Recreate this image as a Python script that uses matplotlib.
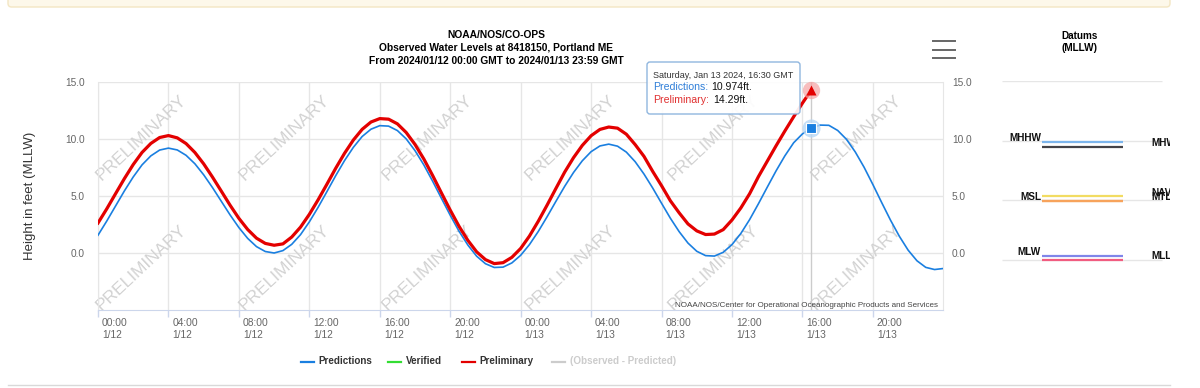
import numpy as np
import matplotlib
matplotlib.use('Agg')
import matplotlib.pyplot as plt
import matplotlib.transforms as mtransforms
from matplotlib.lines import Line2D
from matplotlib.patches import FancyBboxPatch

plt.rcParams['font.family'] = ['Liberation Sans', 'DejaVu Sans']

# Datos (cada 30 min desde 2024/01/12 00:00 GMT)
paso_h = 0.5
predicciones = [
    1.56, 2.81, 4.13, 5.45, 6.67, 7.73, 8.52, 9.03, 9.20, 9.04,
    8.57, 7.83, 6.86, 5.74, 4.54, 3.34, 2.23, 1.28, 0.56, 0.13,
    0.00, 0.21, 0.76, 1.61, 2.73, 4.01, 5.39, 6.79, 8.11, 9.27,
    10.22, 10.86, 11.17, 11.13, 10.74, 10.01, 8.98, 7.73, 6.30, 4.80,
    3.31, 1.91, 0.70, -0.28, -0.94, -1.27, -1.24, -0.87, -0.20, 0.74,
    1.89, 3.18, 4.53, 5.85, 7.06, 8.09, 8.89, 9.39, 9.55, 9.37,
    8.85, 8.01, 6.93, 5.69, 4.36, 3.05, 1.87, 0.87, 0.15, -0.23,
    -0.27, 0.06, 0.74, 1.71, 2.93, 4.32, 5.77, 7.20, 8.52, 9.67,
    10.45, 10.97, 11.22, 11.20, 10.75, 9.97, 8.86, 7.52, 6.00, 4.42,
    2.88, 1.47, 0.25, -0.68, -1.26, -1.45, -1.36,
]
preliminar = [
    2.63, 3.88, 5.21, 6.53, 7.76, 8.82, 9.61, 10.13, 10.30, 10.10,
    9.60, 8.82, 7.82, 6.66, 5.43, 4.19, 3.04, 2.06, 1.30, 0.84,
    0.68, 0.80, 1.40, 2.27, 3.39, 4.67, 6.04, 7.44, 8.75, 9.91,
    10.85, 11.49, 11.79, 11.74, 11.33, 10.57, 9.52, 8.25, 6.80, 5.27,
    3.76, 2.34, 1.11, 0.10, -0.58, -0.93, -0.85, -0.38, 0.40, 1.49,
    2.79, 4.20, 5.66, 7.10, 8.36, 9.44, 10.29, 10.84, 11.05, 10.95,
    10.42, 9.51, 8.48, 7.15, 5.90, 4.58, 3.52, 2.55, 1.94, 1.62,
    1.66, 2.05, 2.90, 3.95, 5.20, 6.70, 8.05, 9.40, 10.70, 11.95,
    13.15, 14.29,
]

horas_ticks = [0, 4, 8, 12, 16, 20, 24, 28, 32, 36, 40, 44]
etiquetas_x = ['00:00\n1/12', '04:00\n1/12', '08:00\n1/12', '12:00\n1/12',
               '16:00\n1/12', '20:00\n1/12', '00:00\n1/13', '04:00\n1/13',
               '08:00\n1/13', '12:00\n1/13', '16:00\n1/13', '20:00\n1/13']
ticks_y = [0, 5, 10, 15]
etiquetas_y = ['0.0', '5.0', '10.0', '15.0']

# Datums (MLLW)
datum_nombres = ['MHHW', 'MHW', 'MTL', 'NAVD88', 'MSL', 'MLW', 'MLLW']
datum_valores = [9.90, 9.48, 4.95, 5.33, 4.98, 0.36, 0.0]
datum_colores = ['#7cb5ec', '#434348', '#f0a050', '#f2dc62', '#f7a35c', '#8085e9', '#f15c80']
datum_lado = ['izq', 'der', 'der', 'der', 'izq', 'izq', 'der']

W, H = 1200, 388
def fx(px):
    return px / W
def fy(py):
    return 1 - py / H

fig = plt.figure(figsize=(12, 3.88), dpi=100)

# Banda superior
fig.add_artist(FancyBboxPatch((fx(8), fy(7)), fx(1162), 12 / H, transform=fig.transFigure,
                              boxstyle='round,pad=0,rounding_size=0.003', mutation_aspect=W / H,
                              fc='#fdf8ea', ec='#f3e6c3', lw=1))
fig.add_artist(Line2D([fx(8), fx(1170)], [fy(385), fy(385)], color='#d9d9d9', lw=1))

# Grafico principal
ax = fig.add_axes([fx(98), fy(310), (943 - 98) / W, (310 - 82) / H])
t_pred = np.arange(len(predicciones)) * paso_h
t_prel = np.arange(len(preliminar)) * paso_h

ax.set_xlim(0, 47.98)
ax.set_ylim(-5, 15)
ax.grid(True, color='#e6e6e6', lw=1, zorder=0)
ax.set_axisbelow(True)
ax.spines['top'].set_visible(False)
ax.spines['left'].set_color('#e6e6e6')
ax.spines['right'].set_color('#e6e6e6')
ax.spines['bottom'].set_color('#ccd6eb')

ax.set_xticks(horas_ticks)
ax.set_xticklabels(etiquetas_x, ha='left', fontsize=7.4, color='#666666', linespacing=1.25)
ax.tick_params(axis='x', length=5, width=1, color='#ccd6eb', pad=0.5)
desplazamiento = mtransforms.ScaledTranslation(4 / 100, 0, fig.dpi_scale_trans)
for lbl in ax.get_xticklabels():
    lbl.set_transform(lbl.get_transform() + desplazamiento)

ax.set_yticks(ticks_y)
ax.set_yticklabels(etiquetas_y)
ax.tick_params(axis='y', length=0, pad=9.4, labelsize=7.3, labelcolor='#666666')

ax2 = ax.twinx()
ax2.set_ylim(-5, 15)
ax2.set_yticks(ticks_y)
ax2.set_yticklabels(etiquetas_y)
ax2.tick_params(axis='y', length=0, pad=6.5, labelsize=7.3, labelcolor='#666666')
for s in ax2.spines.values():
    s.set_visible(False)

# Marcas de agua
for i in range(6):
    for cy in (138, 268):
        ax.text(fx(141 + 143 * i), fy(cy), 'PRELIMINARY', transform=fig.transFigure,
                rotation=43, rotation_mode='anchor', ha='center', va='center',
                fontsize=12.5, color='#d2d2d2', zorder=1)

# Linea de cursor y series
ax.axvline(t_prel[-1], color='#cccccc', lw=1, zorder=2)
ax.plot(t_pred, predicciones, color='#1a7fe0', lw=1.2, zorder=3)
ax.plot(t_prel, preliminar, color='#e30000', lw=2.3, zorder=4)

ax.plot(t_prel[-1], preliminar[-1], 'o', ms=12.5, color='#f6a3a3', alpha=0.7, mec='none', zorder=5, clip_on=False)
ax.plot(t_prel[-1], preliminar[-1], '^', ms=6.5, color='#e30000', mec='none', zorder=6, clip_on=False)
ax.plot(t_prel[-1], predicciones[len(preliminar) - 1], 'o', ms=13, color='#b7d7f5', alpha=0.8, mec='none', zorder=5)
ax.plot(t_prel[-1], predicciones[len(preliminar) - 1], 's', ms=6.5, color='#1a7fe0', mec='white', mew=0.8, zorder=6)

# Creditos
fig.text(fx(938), fy(305.5), 'NOAA/NOS/Center for Operational Oceanographic Products and Services',
         ha='right', va='center', fontsize=5.8, color='#444444')

# Titulos
for texto, py in [('NOAA/NOS/CO-OPS', 35),
                  ('Observed Water Levels at 8418150, Portland ME', 48),
                  ('From 2024/01/12 00:00 GMT to 2024/01/13 23:59 GMT', 61)]:
    fig.text(fx(496), fy(py), texto, ha='center', va='center', fontsize=7.4, fontweight='bold', color='#000000')

fig.text(fx(30), fy(196), 'Height in feet (MLLW)', rotation=90, ha='center', va='center',
         fontsize=9.5, color='#333333')

# Icono de menu
for py in (41, 49.5, 58):
    fig.add_artist(Line2D([fx(933), fx(955)], [fy(py), fy(py)], color='#666666', lw=1.4))

# Tooltip
fig.add_artist(FancyBboxPatch((fx(647), fy(114)), fx(153), 52 / H, transform=fig.transFigure,
                              boxstyle='round,pad=0,rounding_size=0.0025', mutation_aspect=W / H,
                              fc='white', ec='#86b0dc', lw=1, alpha=0.92, zorder=10))
fig.text(fx(653), fy(75), 'Saturday, Jan 13 2024, 16:30 GMT', va='center', fontsize=6.5,
         color='#333333', zorder=11)
fig.text(fx(653), fy(87), 'Predictions:', va='center', fontsize=7.6, color='#2f7ed8', zorder=11)
fig.text(fx(711), fy(87), '10.974ft.', va='center', fontsize=7.6, color='#111111', zorder=11)
fig.text(fx(653), fy(100), 'Preliminary:', va='center', fontsize=7.6, color='#e03030', zorder=11)
fig.text(fx(713), fy(100), '14.29ft.', va='center', fontsize=7.6, color='#111111', zorder=11)

# Leyenda
leyenda = [('Predictions', '#1a7fe0', '#333333', 301),
           ('Verified', '#33dd33', '#333333', 388),
           ('Preliminary', '#e30000', '#333333', 462),
           ('(Observed - Predicted)', '#cccccc', '#cccccc', 552)]
for nombre, col, col_txt, px in leyenda:
    fig.add_artist(Line2D([fx(px), fx(px + 13)], [fy(361.5), fy(361.5)], color=col, lw=1.6))
    fig.text(fx(px + 17.5), fy(361.5), nombre, va='center', fontsize=7.1, fontweight='bold', color=col_txt)

# Panel de datums
fig.text(fx(1080), fy(36), 'Datums', ha='center', va='center', fontsize=7.2, fontweight='bold', color='#000000')
fig.text(fx(1080), fy(48), '(MLLW)', ha='center', va='center', fontsize=7.2, fontweight='bold', color='#000000')
axd = fig.add_axes([fx(1002), fy(319.6), 168 / W, (319.6 - 81) / H])
axd.set_xlim(0, 168)
axd.set_ylim(-5, 15)
axd.axis('off')
axd.hlines(ticks_y, 0, 160, color='#e6e6e6', lw=1)
for nombre, val, col, lado in zip(datum_nombres, datum_valores, datum_colores, datum_lado):
    axd.hlines(val, 40, 121, color=col, lw=1.6)
    if lado == 'izq':
        axd.annotate(nombre, (39, val), xytext=(0, 2.5), textcoords='offset points',
                     ha='right', va='center', fontsize=7.2, fontweight='bold', color='#111111')
    else:
        axd.annotate(nombre, (149, val), xytext=(0, 2.5), textcoords='offset points',
                     ha='left', va='center', fontsize=7.2, fontweight='bold', color='#111111',
                     annotation_clip=False, clip_on=True)

fig.savefig('out.png', dpi=100)
